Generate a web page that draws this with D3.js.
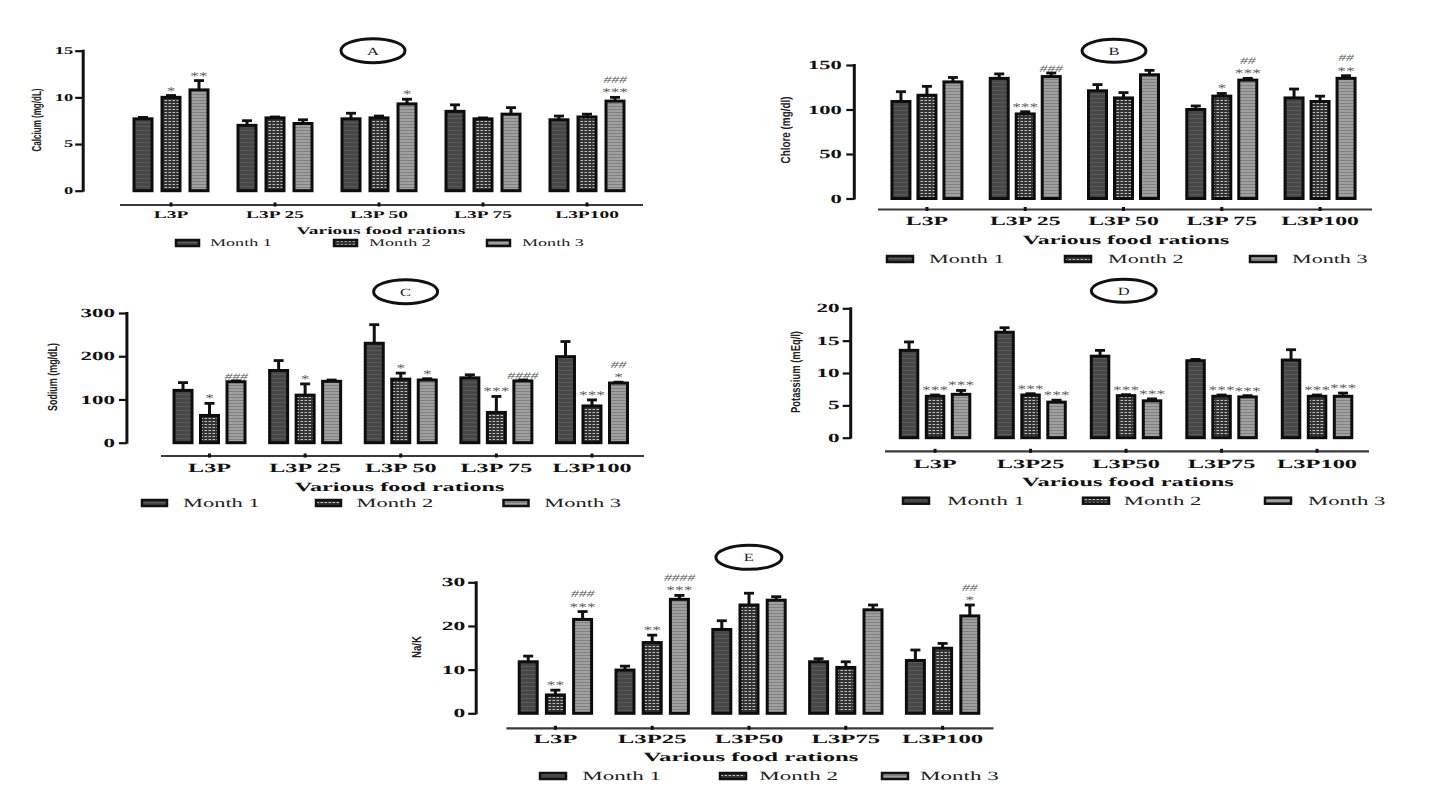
<!DOCTYPE html>
<html><head><meta charset="utf-8">
<script src="https://cdn.jsdelivr.net/npm/d3@7"></script>
<style>body{margin:0;background:#fff;} svg{display:block;} text{text-rendering:geometricPrecision;}</style>
</head><body>
<svg id="c" width="1451" height="810"></svg>
<script>
// ---------------- DATA ----------------
const months = ["Month 1", "Month 2", "Month 3"];
const catsSpaced = ["L3P", "L3P 25", "L3P 50", "L3P 75", "L3P100"];
const catsCompact = ["L3P", "L3P25", "L3P50", "L3P75", "L3P100"];

// A: Calcium (mg/dL)  [month][category]
const calciumMean = [[7.7, 7.0, 7.7, 8.5, 7.6], [10.0, 7.8, 7.8, 7.7, 7.9], [10.8, 7.2, 9.3, 8.2, 9.6]];
const calciumErr  = [[0.15, 0.5, 0.6, 0.7, 0.4], [0.2, 0.1, 0.2, 0.1, 0.3], [1.0, 0.4, 0.5, 0.7, 0.4]];
const calciumStars = [["", "", "", "", ""], ["*", "", "", "", ""], ["**", "", "*", "", "***"]];
const calciumHash  = [["", "", "", "", ""], ["", "", "", "", ""], ["", "", "", "", "###"]];
const calciumTicks = [0, 5, 10, 15];

// B: Chlore (mg/dl)
const chloreMean = [[109, 135, 121, 100, 113], [116, 95, 113, 115, 109], [131, 137, 139, 133, 135]];
const chloreErr  = [[11, 5, 7, 4, 10], [10, 2.5, 6, 3, 6], [5, 4, 5, 2, 3]];
const chloreStars = [["", "", "", "", ""], ["", "***", "", "*", ""], ["", "", "", "***", "**"]];
const chloreHash  = [["", "", "", "", ""], ["", "", "", "", ""], ["", "###", "", "##", "##"]];
const chloreTicks = [0, 50, 100, 150];

// C: Sodium (mg/dL)
const sodiumMean = [[121, 167, 230, 150, 199], [63, 110, 147, 70, 85], [141, 142, 145, 143, 138]];
const sodiumErr  = [[18, 23, 43, 7, 35], [28, 26, 14, 37, 14], [2, 3, 3, 2, 2]];
const sodiumStars = [["", "", "", "", ""], ["*", "*", "*", "***", "***"], ["", "", "*", "", "*"]];
const sodiumHash  = [["", "", "", "", ""], ["", "", "", "", ""], ["###", "", "", "####", "##"]];
const sodiumTicks = [0, 100, 200, 300];

// D: Potassium (mEq/l)
const potassiumMean = [[13.5, 16.3, 12.6, 11.9, 12.0], [6.4, 6.6, 6.5, 6.4, 6.4], [6.7, 5.5, 5.7, 6.3, 6.4]];
const potassiumErr  = [[1.3, 0.7, 0.9, 0.2, 1.6], [0.2, 0.2, 0.15, 0.2, 0.2], [0.6, 0.3, 0.3, 0.2, 0.5]];
const potassiumStars = [["", "", "", "", ""], ["***", "***", "***", "***", "***"], ["***", "***", "***", "***", "***"]];
const potassiumHash  = [["", "", "", "", ""], ["", "", "", "", ""], ["", "", "", "", ""]];
const potassiumTicks = [0, 5, 10, 15, 20];

// E: Na/K
const naKMean = [[11.8, 9.9, 19.2, 11.8, 12.1], [4.2, 16.2, 24.8, 10.5, 14.9], [21.5, 26.1, 25.9, 23.7, 22.3]];
const naKErr  = [[1.3, 0.9, 2.0, 0.7, 2.4], [1.1, 1.7, 2.7, 1.3, 1.1], [1.8, 0.9, 0.8, 1.1, 2.5]];
const naKStars = [["", "", "", "", ""], ["**", "**", "", "", ""], ["***", "***", "", "", "*"]];
const naKHash  = [["", "", "", "", ""], ["", "", "", "", ""], ["###", "####", "", "", "##"]];
const naKTicks = [0, 10, 20, 30];

const xTitle = "Various food rations";

// ---------------- LAYOUT (styling only) ----------------
const panels = [
  {letter: "A", cats: catsSpaced, yTitle: "Calcium (mg/dL)", ticks: calciumTicks, mean: calciumMean, err: calciumErr, stars: calciumStars, hash: calciumHash,
   L: {x0: 119, x1: 639, inner: 28, barW: 18, yr: [190.7, 50.7], axisX: 83.2, axY: 205, axX1: 120, axX2: 643,
       labelY: 217.5, titleX: 381, titleY: 233.5, legendY: 243, sw: [176, 334, 487], swW: 23, tx: [210, 369, 522],
       ell: [373, 50.7, 32, 12], yt: [36, 120, 63], fs: 10.5, sx: 1.85, tickGap: 10}},
  {letter: "B", cats: catsSpaced, yTitle: "Chlore (mg/dl)", ticks: chloreTicks, mean: chloreMean, err: chloreErr, stars: chloreStars, hash: chloreHash,
   L: {x0: 877.8, x1: 1369.2, inner: 26, barW: 18, yr: [198.5, 65], axisX: 854.3, axY: 209.5, axX1: 878, axX2: 1372,
       labelY: 224.5, titleX: 1126, titleY: 243.5, legendY: 259, sw: [887, 1065, 1250], swW: 26, tx: [929, 1108, 1292],
       ell: [1114, 50.7, 32, 11.5], yt: [785, 130, 67], fs: 12.5, sx: 1.9, tickGap: 12.5}},
  {letter: "C", cats: catsSpaced, yTitle: "Sodium (mg/dL)", ticks: sodiumTicks, mean: sodiumMean, err: sodiumErr, stars: sodiumStars, hash: sodiumHash,
   L: {x0: 161.7, x1: 639.8, inner: 26.5, barW: 18, yr: [442.7, 313], axisX: 126.9, axY: 456, axX1: 161, axX2: 644,
       labelY: 471.5, titleX: 399.5, titleY: 490.5, legendY: 503, sw: [142, 316, 503.5], swW: 25, tx: [183, 356.6, 544.3],
       ell: [405.6, 291.7, 32, 12], yt: [52.6, 377, 68], fs: 12.5, sx: 1.93, tickGap: 12}},
  {letter: "D", cats: catsCompact, yTitle: "Potassium (mEq/l)", ticks: potassiumTicks, mean: potassiumMean, err: potassiumErr, stars: potassiumStars, hash: potassiumHash,
   L: {x0: 887.3, x1: 1364.8, inner: 26, barW: 17.5, yr: [437.7, 308.3], axisX: 850.7, axY: 451.3, axX1: 885, axX2: 1369,
       labelY: 467.5, titleX: 1128, titleY: 485.5, legendY: 500.7, sw: [903, 1083, 1265], swW: 26, tx: [947.3, 1123.8, 1308],
       ell: [1123.8, 290.7, 32.5, 11.5], yt: [795, 372, 82], fs: 12.5, sx: 1.95, tickGap: 11}},
  {letter: "E", cats: catsCompact, yTitle: "Na/K", ticks: naKTicks, mean: naKMean, err: naKErr, stars: naKStars, hash: naKHash,
   L: {x0: 507, x1: 991, inner: 27.2, barW: 18, yr: [713.3, 582.3], axisX: 476.2, axY: 728.3, axX1: 506.4, axX2: 993.5,
       labelY: 742.8, titleX: 751, titleY: 761, legendY: 776, sw: [540, 720, 882], swW: 26, tx: [582.3, 759.3, 920],
       ell: [748.9, 557.3, 33, 12], yt: [416.5, 647, 22], fs: 12.5, sx: 1.98, tickGap: 11}}
];

const SERIF = "'Liberation Serif','DejaVu Serif',serif";
const svg = d3.select("#c");

// patterns
const defs = svg.append("defs");
const p1 = defs.append("pattern").attr("id", "m1").attr("patternUnits", "userSpaceOnUse").attr("width", 4).attr("height", 4);
p1.append("rect").attr("width", 4).attr("height", 4).attr("fill", "#474747");
p1.append("rect").attr("y", 2).attr("width", 4).attr("height", 1).attr("fill", "#5a5a5a");
const p2 = defs.append("pattern").attr("id", "m2").attr("patternUnits", "userSpaceOnUse").attr("width", 4).attr("height", 3);
p2.append("rect").attr("width", 4).attr("height", 3).attr("fill", "#333");
p2.append("rect").attr("x", 0.5).attr("y", 1).attr("width", 2.5).attr("height", 1).attr("fill", "#c0c0c0");
const p3 = defs.append("pattern").attr("id", "m3").attr("patternUnits", "userSpaceOnUse").attr("width", 4).attr("height", 3);
p3.append("rect").attr("width", 4).attr("height", 3).attr("fill", "#a0a0a0");
p3.append("rect").attr("y", 1).attr("width", 4).attr("height", 1).attr("fill", "#808080");
const fills = ["url(#m1)", "url(#m2)", "url(#m3)"];

function sText(g, x, y, txt, o) {
  const t = g.append("text")
    .attr("transform", `translate(${x},${y}) scale(${o.sx},1)`)
    .attr("font-family", SERIF)
    .attr("font-size", o.fs)
    .attr("font-weight", o.bold ? "bold" : "normal")
    .attr("text-anchor", o.anchor || "middle")
    .attr("fill", o.fill || "#111")
    .text(txt);
  if (o.italic) t.attr("font-style", "italic");
  if (o.ls) t.attr("letter-spacing", o.ls);
  return t;
}

panels.forEach(p => {
  const L = p.L;
  const g = svg.append("g");
  const yMax = p.ticks[p.ticks.length - 1];
  const x = d3.scaleBand().domain(p.cats).range([L.x0, L.x1]);
  const pi = 1 - L.barW / L.inner;
  const xm = d3.scaleBand().domain(months).range([-1.5 * L.inner, 1.5 * L.inner]).paddingInner(pi).paddingOuter(pi / 2);
  const y = d3.scaleLinear().domain([0, yMax]).range(L.yr);

  // y axis
  const yAx = g.append("g").attr("transform", `translate(${L.axisX},0)`)
    .call(d3.axisLeft(y).tickValues(p.ticks).tickSize(8).tickPadding(3).tickFormat(d3.format("d")));
  yAx.select(".domain").attr("stroke", "#111").attr("stroke-width", 3).attr("d", `M0,${y(0) + 1}V${y(yMax) - 1}`);
  yAx.selectAll(".tick line").attr("stroke", "#111").attr("stroke-width", 2.2);
  yAx.selectAll(".tick text").remove();
  p.ticks.forEach(t => {
    sText(g, L.axisX - L.tickGap, y(t) + L.fs * 0.33, String(t), {fs: L.fs, sx: L.sx * 0.95, bold: true, anchor: "end"});
  });

  // x axis line
  g.append("line").attr("x1", L.axX1).attr("x2", L.axX2).attr("y1", L.axY).attr("y2", L.axY)
    .attr("stroke", "#3a3a3a").attr("stroke-width", 2.2);
  p.cats.forEach(c => {
    const cx = x(c) + x.bandwidth() / 2;
    g.append("rect").attr("x", cx - 1.5).attr("y", L.axY - 2.5).attr("width", 3).attr("height", 4).attr("fill", "#111");
    sText(g, cx, L.labelY, c, {fs: L.fs, sx: L.sx, bold: true});
  });

  // bars
  months.forEach((m, j) => {
    p.cats.forEach((c, i) => {
      const v = p.mean[j][i], e = p.err[j][i];
      const bx = x(c) + x.bandwidth() / 2 + xm(m);
      const cx = bx + xm.bandwidth() / 2;
      const top = y(v + e);
      g.append("line").attr("x1", cx).attr("x2", cx).attr("y1", y(v)).attr("y2", top).attr("stroke", "#111").attr("stroke-width", 3);
      g.append("line").attr("x1", cx - 5).attr("x2", cx + 5).attr("y1", top).attr("y2", top).attr("stroke", "#111").attr("stroke-width", 2.8);
      g.append("rect").attr("x", bx).attr("y", y(v)).attr("width", xm.bandwidth()).attr("height", y(0) - y(v))
        .attr("fill", fills[j]).attr("stroke", "#0d0d0d").attr("stroke-width", 3);
      const st = p.stars[j][i], hs = p.hash[j][i];
      let by = top - 1;
      if (st) {
        sText(g, cx, by, st, {fs: 12, sx: 1.45, fill: "#5a5a5a"});
        by -= 13.3;
      }
      if (hs) {
        sText(g, cx, by, hs, {fs: 10, sx: 1.55, fill: "#5a5a5a", italic: true});
      }
    });
  });

  // titles
  sText(g, L.titleX, L.titleY, xTitle, {fs: L.fs, sx: L.sx, bold: true});
  g.append("text").attr("transform", `translate(${L.yt[0] + 4.5},${L.yt[1]}) rotate(-90)`)
    .attr("text-anchor", "middle").attr("font-family", "'Liberation Sans Narrow','Liberation Sans',sans-serif")
    .attr("font-size", 13).attr("font-weight", "bold").attr("fill", "#222")
    .attr("textLength", L.yt[2]).attr("lengthAdjust", "spacingAndGlyphs").text(p.yTitle);

  // ellipse label
  g.append("ellipse").attr("cx", L.ell[0]).attr("cy", L.ell[1]).attr("rx", L.ell[2]).attr("ry", L.ell[3])
    .attr("fill", "#fff").attr("stroke", "#111").attr("stroke-width", 3);
  sText(g, L.ell[0], L.ell[1] + 4, p.letter, {fs: 11, sx: 1.5, fill: "#222"});

  // legend
  months.forEach((m, j) => {
    g.append("rect").attr("x", L.sw[j]).attr("y", L.legendY - 3).attr("width", L.swW).attr("height", 6)
      .attr("fill", fills[j]).attr("stroke", "#111").attr("stroke-width", 2.5);
    sText(g, L.tx[j], L.legendY + L.fs * 0.33, m, {fs: L.fs, sx: L.sx * 0.93, anchor: "start", fill: "#222"});
  });
});
</script>
</body></html>
